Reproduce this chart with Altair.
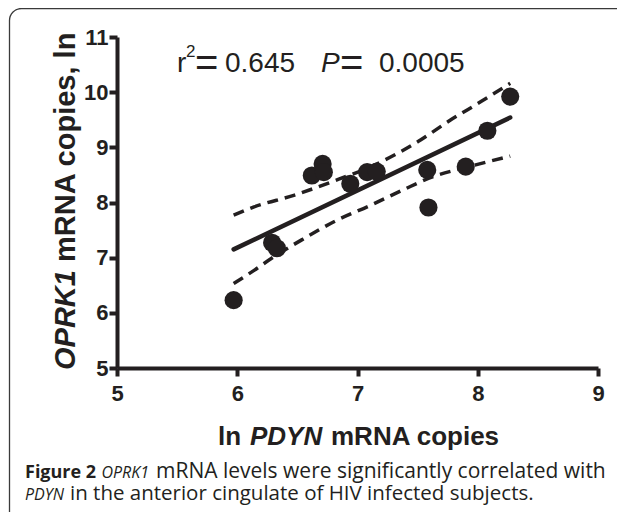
import altair as alt
import pandas as pd

# ---- data ----
pdyn = [5.97, 6.29, 6.33, 6.62, 6.71, 6.72, 6.94, 7.08, 7.16, 7.58, 7.59, 7.90, 8.08, 8.27]
oprk1 = [6.23, 7.27, 7.17, 8.49, 8.70, 8.55, 8.34, 8.55, 8.56, 8.59, 7.91, 8.65, 9.30, 9.92]

fit_x = [5.97, 8.27]
fit_y = [7.15, 9.54]

upper_x = [5.97, 6.14, 6.47, 6.78, 7.19, 7.50, 7.77, 8.02, 8.27]
upper_y = [7.77, 7.92, 8.13, 8.37, 8.73, 9.10, 9.49, 9.82, 10.16]

lower_x = [5.97, 6.14, 6.30, 6.55, 6.83, 7.11, 7.38, 7.63, 7.91, 8.27]
lower_y = [6.53, 6.77, 7.01, 7.34, 7.68, 7.95, 8.23, 8.47, 8.64, 8.84]

x_ticks = [5, 6, 7, 8, 9]
y_ticks = [5, 6, 7, 8, 9, 10, 11]

INK = "#231f20"
W, H = 481, 331

pts = pd.DataFrame({"x": pdyn, "y": oprk1})
fit = pd.DataFrame({"x": fit_x, "y": fit_y})
up = pd.DataFrame({"x": upper_x, "y": upper_y})
lo = pd.DataFrame({"x": lower_x, "y": lower_y})

xs = alt.Scale(domain=[5, 9], nice=False, zero=False)
ys = alt.Scale(domain=[5, 11], nice=False, zero=False)
xax = alt.Axis(values=x_ticks, format="d", title=None, labelFlush=False, labelPadding=7)
yax = alt.Axis(values=y_ticks, format="d", title=None, labelFlush=False, labelPadding=1)

points = alt.Chart(pts).mark_point(filled=True, opacity=1, size=330, color=INK).encode(
    x=alt.X("x:Q", scale=xs, axis=xax),
    y=alt.Y("y:Q", scale=ys, axis=yax),
)

fit_line = alt.Chart(fit).mark_line(color=INK, strokeWidth=4.5, strokeCap="round").encode(
    x=alt.X("x:Q", scale=xs), y=alt.Y("y:Q", scale=ys)
)
up_line = alt.Chart(up).mark_line(color=INK, strokeWidth=3.5, strokeDash=[11, 7], interpolate="monotone").encode(
    x=alt.X("x:Q", scale=xs), y=alt.Y("y:Q", scale=ys)
)
lo_line = alt.Chart(lo).mark_line(color=INK, strokeWidth=3.5, strokeDash=[11, 7], interpolate="monotone").encode(
    x=alt.X("x:Q", scale=xs), y=alt.Y("y:Q", scale=ys)
)

OX, OY = 117, 37  # plot origin on the page


def txt(s, px, py, size, weight="normal", style="normal", font="Liberation Sans",
        angle=0, align="left", baseline="alphabetic", color=INK):
    return alt.Chart(pd.DataFrame({"t": [s]})).mark_text(
        fontSize=size, fontWeight=weight, fontStyle=style, font=font,
        angle=angle, align=align, baseline=baseline, color=color,
    ).encode(x=alt.value(px - OX), y=alt.value(py - OY), text="t:N")


border = alt.Chart(pd.DataFrame({"a": [0]})).mark_rect(
    filled=False, stroke="#3a3a3a", strokeWidth=1.3, cornerRadius=12
).encode(x=alt.value(9.5 - OX), x2=alt.value(800), y=alt.value(8.5 - OY), y2=alt.value(700))

texts = [
    # statistics annotation
    txt("r", 177, 71.7, 28),
    txt("2", 186, 57, 17),
    txt("=", 195, 75.5, 40),
    txt("0.645", 225, 71.7, 28),
    txt("P", 321, 71.7, 28, style="italic"),
    txt("=", 340, 75.5, 40),
    txt("0.0005", 379, 71.7, 28),
    # y title
    txt("OPRK1", 75, 370, 29, weight="bold", style="italic", angle=270),
    txt("mRNA copies, ln", 75, 262, 29, weight="bold", angle=270),
    # x title
    txt("ln", 218, 445, 26, weight="bold"),
    txt("PDYN", 250, 445, 26, weight="bold", style="italic"),
    txt("mRNA copies", 331, 445, 26, weight="bold"),
    # caption
    txt("Figure 2", 25, 478, 18, weight="bold", font="Open Sans"),
    txt("OPRK1", 101.5, 478, 16, style="italic", font="Open Sans"),
    txt("mRNA levels were significantly correlated with", 156, 478, 21, font="Open Sans"),
    txt("PDYN", 25, 500, 16, style="italic", font="Open Sans"),
    txt("in the anterior cingulate of HIV infected subjects.", 70, 500, 20.5, font="Open Sans"),
]

chart = alt.layer(border, up_line, lo_line, fit_line, points, *texts).properties(
    width=W, height=H,
    autosize=alt.AutoSizeParams(type="none"),
    padding={"left": OX - 8, "top": OY - 8, "right": 609 - (OX - 8) - W, "bottom": 504 - (OY - 8) - H},
).configure_view(stroke=None).configure_axis(
    grid=False,
    domainColor=INK, domainWidth=4,
    tickColor=INK, tickWidth=4, tickSize=8,
    labelFont="Liberation Sans", labelFontWeight="bold", labelFontSize=22, labelColor=INK,
    labelOverlap=False,
)

chart.save("out.html", embed_options={"renderer": "svg", "actions": False})
